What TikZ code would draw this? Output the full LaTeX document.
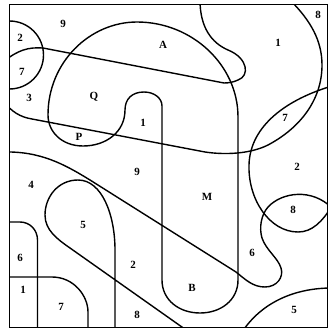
\documentclass[tikz,border=0pt]{standalone}
\usepackage{fontspec}
\setmainfont{Liberation Serif}

\begin{document}
\begin{tikzpicture}[
  x=1pt, y=-1pt,
  curve/.style={line width=1.4pt, line join=round},
  frame/.style={line width=1.6pt},
  lbl/.style={font=\bfseries\fontsize{11}{12}\selectfont, inner sep=0pt}
]
\useasboundingbox (0,0) rectangle (329,329);

\begin{scope}
\clip (9.5,4.5) rectangle (327.5,327.5);
% left circle
\draw[curve] (9.5,55) circle[radius=34];
% hook from the top edge and the line back to the left edge
\draw[curve] (200,0) .. controls (200,28) and (212,43) .. (228,50)
  .. controls (248,58) and (250,76) .. (238,80)
  .. controls (234,82) and (229,83) .. (224,83) -- (43,48)
  .. controls (28,47) and (18,50) .. (3,62);
% mushroom
\draw[curve] (83,146) .. controls (62,146) and (48,132) .. (48,115)
  .. controls (48,62) and (90,22) .. (137,22)
  .. controls (192,22) and (238,65) .. (238,117)
  -- (238,280)
  .. controls (238,300) and (221,313) .. (200,313)
  .. controls (179,313) and (162,300) .. (162,280)
  -- (162,106)
  .. controls (162,98) and (154,92) .. (144,92)
  .. controls (132,92) and (125,99) .. (125,110)
  .. controls (125,132) and (106,146) .. (83,146) -- cycle;
% band and right circle
\draw[curve] (3,101) .. controls (12,112) and (20,117) .. (32,119)
  -- (205,152)
  .. controls (225,155) and (250,154) .. (268,145)
  .. controls (300,128) and (322,100) .. (322,65)
  .. controls (322,40) and (310,20) .. (290,0);
% diagonal, bump and lens top
\draw[curve] (3,152) .. controls (40,151) and (64,164) .. (90,180)
  -- (236,272)
  .. controls (246,280) and (253,287) .. (265,287)
  .. controls (277,287) and (284,277) .. (281,268)
  .. controls (278,258) and (266,250) .. (262,238)
  .. controls (259,228) and (261,215) .. (268,207)
  .. controls (282,192) and (312,188) .. (332,208);
% big circle on the right
\draw[curve] (332,86) .. controls (288,99) and (250,125) .. (249,165)
  .. controls (248,200) and (270,232) .. (298,232)
  .. controls (312,232) and (322,222) .. (332,206);
% 5 shape
\draw[curve] (115,332) -- (115,250)
  .. controls (115,215) and (102,180) .. (78,180)
  .. controls (58,180) and (45,197) .. (45,215)
  .. controls (45,230) and (57,239) .. (70,248) -- (189,332);
% bottom left
\draw[curve] (3,222) -- (20,222) .. controls (30,222) and (37.5,230) .. (37.5,240)
  -- (37.5,332);
\draw[curve] (3,277) -- (52,277) .. controls (74,277) and (88,296) .. (88,312)
  -- (88,332);
% bottom right
\draw[curve] (242,332) .. controls (262,302) and (295,288) .. (332,288);
\end{scope}

\draw[frame] (9.5,4.5) rectangle (327.5,327.5);

\node[lbl] (n9a) at (63,24) {9};
\node[lbl] (n2a) at (20,38) {2};
\node[lbl] (n7a) at (22,72) {7};
\node[lbl] (n3) at (29,98) {3};
\node[lbl] (nA) at (163,45) {A};
\node[lbl] (n1a) at (278,43) {1};
\node[lbl] (n8a) at (318,15) {8};
\node[lbl] (nQ) at (94,97) {Q};
\node[lbl] (nP) at (79,137) {P};
\node[lbl] (n1b) at (143,123) {1};
\node[lbl] (n7b) at (285,118) {7};
\node[lbl] (n2b) at (297,167) {2};
\node[lbl] (n9b) at (137,172) {9};
\node[lbl] (n4) at (31,185) {4};
\node[lbl] (nM) at (207,197) {M};
\node[lbl] (n8b) at (293,210) {8};
\node[lbl] (n5a) at (83,225) {5};
\node[lbl] (n6a) at (252,253) {6};
\node[lbl] (n6b) at (20,258) {6};
\node[lbl] (n2c) at (133,265) {2};
\node[lbl] (nB) at (192,288) {B};
\node[lbl] (n1c) at (23,290) {1};
\node[lbl] (n7c) at (61,307) {7};
\node[lbl] (n8c) at (137,315) {8};
\node[lbl] (n5b) at (294,310) {5};
\end{tikzpicture}
\end{document}
